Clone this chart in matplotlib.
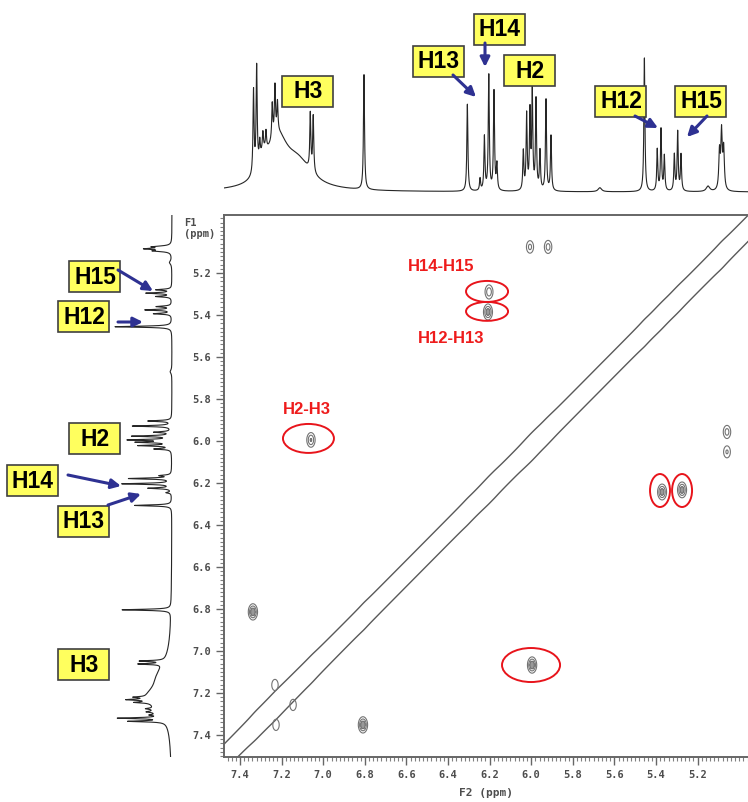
import numpy as np
import matplotlib.pyplot as plt
from matplotlib.patches import Ellipse, Rectangle
from matplotlib.ticker import MultipleLocator

# 1D proton spectrum lines: position (ppm), height, half width (ppm)
peak_ppm = [7.335, 7.320, 7.305, 7.290, 7.275, 7.245, 7.232, 7.220,
            7.290, 7.220, 7.120,
            7.062, 7.048, 6.804, 6.307, 6.246, 6.225, 6.204, 6.179, 6.165,
            6.038, 6.022, 6.006, 5.995, 5.977, 5.958, 5.929, 5.905, 5.670,
            5.456, 5.394, 5.376, 5.360, 5.312, 5.296, 5.280, 5.150,
            5.095, 5.085, 5.075]
peak_height = [0.62, 0.76, 0.13, 0.13, 0.13, 0.26, 0.36, 0.22,
               0.12, 0.36, 0.18,
               0.42, 0.42, 0.86, 0.65, 0.09, 0.40, 0.86, 0.74, 0.19,
               0.29, 0.56, 0.57, 0.72, 0.67, 0.29, 0.68, 0.41, 0.03,
               1.00, 0.31, 0.46, 0.26, 0.27, 0.44, 0.27, 0.04,
               0.28, 0.42, 0.30]
peak_width = [0.003, 0.003, 0.003, 0.003, 0.003, 0.003, 0.003, 0.003,
              0.025, 0.060, 0.080,
              0.003, 0.003, 0.003, 0.003, 0.003, 0.003, 0.003, 0.003, 0.003,
              0.003, 0.003, 0.003, 0.003, 0.003, 0.003, 0.003, 0.003, 0.010,
              0.003, 0.003, 0.003, 0.003, 0.003, 0.003, 0.003, 0.010,
              0.004, 0.004, 0.004]

# COSY cross peaks (F2, F1) and intensity
cross_f2 = [6.203, 6.208, 7.059, 5.371, 5.275, 5.996, 7.338, 6.809,
            6.006, 5.919, 5.059, 5.059, 7.232, 7.227, 7.145]
cross_f1 = [5.290, 5.386, 5.995, 6.243, 6.233, 7.067, 6.814, 7.352,
            5.076, 5.076, 5.957, 6.052, 7.162, 7.352, 7.257]
cross_amp = [0.7, 1.0, 0.8, 1.0, 1.0, 1.1, 1.1, 1.1,
             0.55, 0.6, 0.6, 0.5, 0.45, 0.45, 0.45]

# circled correlations (F2, F1, width, height in ppm)
circ_f2 = [6.2125, 6.2125, 7.071, 5.381, 5.275, 6.001]
circ_f1 = [5.288, 5.383, 5.988, 6.236, 6.236, 7.067]
circ_w = [0.202, 0.202, 0.245, 0.096, 0.096, 0.279]
circ_h = [0.100, 0.090, 0.138, 0.157, 0.157, 0.162]

corr_labels = ['H14-H15', 'H12-H13', 'H2-H3']
corr_f2 = [6.434, 6.386, 7.078]
corr_f1 = [5.171, 5.514, 5.848]

tick_ppm = [7.4, 7.2, 7.0, 6.8, 6.6, 6.4, 6.2, 6.0, 5.8, 5.6, 5.4, 5.2]

# assignment boxes (figure pixels) and arrows
top_names = ['H3', 'H13', 'H14', 'H2', 'H12', 'H15']
top_x = [308, 439, 500, 530, 621, 701]
top_y = [91, 61, 29, 70, 101, 101]
left_names = ['H15', 'H12', 'H2', 'H14', 'H13', 'H3']
left_x = [95, 84, 95, 33, 84, 84]
left_y = [276, 316, 438, 480, 521, 664]
arrows = [((453, 75), (476, 97)), ((485, 43), (485, 67)),
          ((635, 116), (658, 128)), ((707, 116), (687, 137)),
          ((118, 270), (153, 291)), ((118, 322), (143, 322)),
          ((68, 475), (121, 486)), ((108, 505), (141, 494))]

W, H = 748, 802
fig = plt.figure(figsize=(W / 100, H / 100), dpi=100)


def spectrum(x, widen=0.0):
    s = np.zeros_like(x)
    for p, h, w in zip(peak_ppm, peak_height, peak_width):
        g = w + widen
        s += h * (w / g) / (1 + ((x - p) / g) ** 2)
    return s


x1 = np.linspace(4.9, 7.6, 6000)
spec = spectrum(x1)

xl = (7.477, 4.958)
yl = (7.505, 4.924)
ax_l, ax_r, ax_t, ax_b = 224, 748, 215, 757

# main 2D plot
ax = fig.add_axes([ax_l / W, 1 - ax_b / H, (ax_r - ax_l) / W, (ax_b - ax_t) / H])
g = np.linspace(4.85, 7.6, 700)
F2, F1 = np.meshgrid(g, g)
sb = spectrum(g, widen=0.02)
ridge = np.exp(-0.5 * ((F1 - F2 - 0.03) / 0.04) ** 2) * (1 + 0.8 * sb[None, :])
ax.contour(F2, F1, ridge, levels=[0.3], colors='0.35', linewidths=1.0)
Z = np.zeros_like(F2)
for a, b, amp in zip(cross_f2, cross_f1, cross_amp):
    Z += amp * np.exp(-0.5 * (((F2 - a) / 0.012) ** 2 + ((F1 - b) / 0.021) ** 2))
ax.contourf(F2, F1, Z, levels=[0.75, 5], colors=['0.6'])
ax.contour(F2, F1, Z, levels=[0.2, 0.45, 0.75], colors='0.45', linewidths=0.8)

for a, b, w, h in zip(circ_f2, circ_f1, circ_w, circ_h):
    ax.add_patch(Ellipse((a, b), w, h, fill=False, edgecolor='#E8141B', lw=1.4, zorder=5))
for t, a, b in zip(corr_labels, corr_f2, corr_f1):
    ax.text(a, b, t, color='#EE1C1C', fontsize=12, fontweight='bold',
            family='Liberation Sans', ha='center', va='center')

ax.set_xlim(xl)
ax.set_ylim(yl)
ax.set_xticks(tick_ppm)
ax.set_yticks(tick_ppm)
ax.set_xticklabels([f'{v:.1f}' for v in tick_ppm])
ax.set_yticklabels([f'{v:.1f}' for v in tick_ppm])
ax.xaxis.set_minor_locator(MultipleLocator(0.02))
ax.yaxis.set_minor_locator(MultipleLocator(0.02))
ax.tick_params(which='major', direction='out', length=6, width=1, color='0.4', pad=3)
ax.tick_params(which='minor', direction='out', length=3, width=0.8, color='0.5')
for lab in ax.get_xticklabels() + ax.get_yticklabels():
    lab.set_family('DejaVu Sans Mono')
    lab.set_fontweight('bold')
    lab.set_fontsize(7.5)
    lab.set_color('0.3')
ax.spines['right'].set_visible(False)
for s in ['left', 'bottom', 'top']:
    ax.spines[s].set_color('0.4')
    ax.spines[s].set_linewidth(1.4)
ax.set_xlabel('F2 (ppm)', family='DejaVu Sans Mono', fontweight='bold',
              fontsize=8, color='0.3', labelpad=6)
ax.text(-0.077, 0.975, 'F1\n(ppm)', transform=ax.transAxes, family='DejaVu Sans Mono',
        fontweight='bold', fontsize=7.5, color='0.3', ha='left', va='center',
        linespacing=1.1)

# top projection
top = fig.add_axes([ax_l / W, 1 - 195 / H, (ax_r - ax_l) / W, 155 / H])
top.plot(x1, spec, color='0.15', lw=0.8)
top.set_xlim(xl)
top.set_ylim(-3 / 134, 1 + 18 / 134)
top.axis('off')

# left projection
left = fig.add_axes([100 / W, 1 - ax_b / H, 80 / W, (ax_b - ax_t) / H])
left.plot(spec, x1, color='0.15', lw=0.8)
left.set_ylim(yl)
left.set_xlim(72 / 57, -8 / 57)
left.axis('off')

# overlay for assignment boxes and arrows
ov = fig.add_axes([0, 0, 1, 1], zorder=10)
ov.set_xlim(0, W)
ov.set_ylim(H, 0)
ov.axis('off')
ov.patch.set_alpha(0)
for names, xs, ys in [(top_names, top_x, top_y), (left_names, left_x, left_y)]:
    for n, cx, cy in zip(names, xs, ys):
        ov.add_patch(Rectangle((cx - 25.5, cy - 15.5), 51, 31, facecolor='#FFFF5E',
                               edgecolor='0.25', lw=1.2))
        ov.text(cx, cy + 1, n, fontsize=16.5, fontweight='bold', family='Liberation Sans',
                ha='center', va='center', color='black')
for p0, p1 in arrows:
    ov.annotate('', xy=p1, xytext=p0,
                arrowprops=dict(arrowstyle='-|>', color='#2E3192', lw=2.2,
                                mutation_scale=14, shrinkA=0, shrinkB=0))

fig.savefig('out.png', dpi=100)
